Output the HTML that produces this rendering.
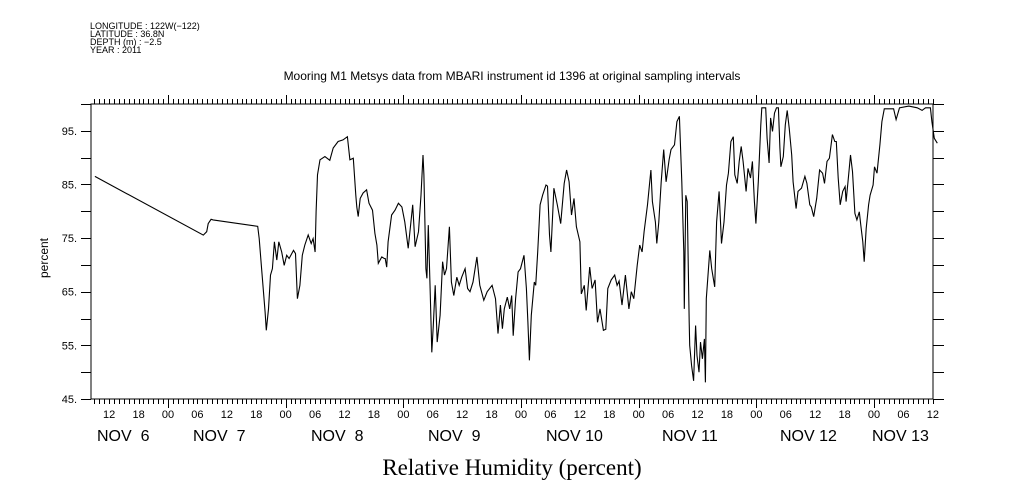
<!DOCTYPE html>
<html><head><meta charset="utf-8"><style>
html,body{margin:0;padding:0;background:#fff;}
svg{display:block;font-family:"Liberation Sans",sans-serif;}
</style></head><body>
<svg id="chart" width="1009" height="504" viewBox="0 0 1009 504" xmlns="http://www.w3.org/2000/svg">
<g font-size="9" fill="#000">
<text x="90" y="29">LONGITUDE : 122W(−122)</text>
<text x="90" y="37">LATITUDE : 36.8N</text>
<text x="90" y="45">DEPTH (m) : −2.5</text>
<text x="90" y="53">YEAR : 2011</text>
</g>
<text x="512" y="80" font-size="12" text-anchor="middle">Mooring M1 Metsys data from MBARI instrument id 1396 at original sampling intervals</text>
<text x="512" y="475" font-size="23" text-anchor="middle" font-family="Liberation Serif,serif">Relative Humidity (percent)</text>
<text x="0" y="0" font-size="12" text-anchor="middle" transform="translate(48,258) rotate(-90)">percent</text>
<rect x="91" y="104" width="842" height="295" fill="none" stroke="#000" stroke-width="1"/>
<g id="axes"></g>
<path id="line" fill="none" stroke="#000" stroke-width="1.1"/>
</svg>
<script>
const hours=[9.1,31.2,31.9,32.2,32.8,33.2,42.3,42.6,43.1,43.8,44.05,44.5,44.9,45.3,45.7,46.2,46.6,47.2,47.7,48.2,48.7,49.6,50,50.4,50.9,51.4,51.9,52.6,53.2,53.6,54,54.2,54.5,55,56,57,57.7,58.7,59.7,60.6,61.1,61.8,62.3,62.5,62.8,63.2,63.8,64.5,65,65.7,66.2,66.6,66.9,67.6,68.1,68.3,68.6,68.9,69.6,70.3,71,71.7,72.3,73,73.9,74.4,75.1,75.6,76,76.2,76.6,76.8,77.1,77.5,77.8,78.1,78.5,78.9,79.5,80,80.4,80.8,81.4,81.8,82.3,82.9,83.4,83.9,84.6,85.1,85.6,86.2,87,87.6,88.4,89.1,90.1,90.8,91.3,91.8,92.2,92.6,93.2,93.7,94.1,94.4,94.9,95.4,95.9,96.6,97.1,97.4,97.7,98.1,98.7,99,99.4,99.9,100.4,101.1,101.4,101.8,102.1,102.7,103.4,104.1,104.8,105.3,105.8,106.3,106.8,107.3,108,108.3,108.9,109.3,110,110.5,111.1,111.6,112.1,112.8,113.3,113.7,114.4,115.1,115.6,116,116.6,117.3,118,118.5,119,119.7,120.2,120.7,121.1,121.8,122.5,122.8,123.4,123.7,124.1,124.6,125.1,125.6,126.2,126.6,127.3,127.8,128.3,128.8,129.2,129.3,129.6,129.9,130.3,130.4,130.8,131.2,131.6,131.9,132.3,132.6,133,133.4,133.6,133.8,134.5,134.9,135.5,135.9,136.4,136.9,137.4,137.9,138.3,138.8,139.3,139.6,140.1,140.5,140.9,141.3,141.9,142.3,142.8,143.2,143.6,143.9,144.4,144.9,145.1,145.9,146.2,146.6,146.9,147.3,147.7,148.1,148.5,148.8,149,149.5,149.9,150.3,150.7,151.2,151.5,152.1,152.5,153.2,153.9,154.3,154.9,155.2,155.7,156.3,156.9,157.5,157.9,158.4,158.9,159.5,160,160.3,160.7,161.1,161.6,162.1,162.3,162.8,163.2,163.6,164.1,164.5,165,165.3,165.7,166,166.4,166.9,167.2,167.8,168.1,168.6,169.2,169.6,170.1,172,172.5,173.2,175.1,176.8,177.8,178.5,179.5,179.8,180.3,180.9];
const values=[86.5,75.55,76.2,77.7,78.5,78.4,77.2,74.9,69.3,61.2,57.8,61.8,68.1,69.3,74.3,70.9,74.3,72.4,69.9,71.8,71.2,72.7,72.1,63.7,66.2,71.8,73.7,75.6,74,74.9,72.4,79.9,86.8,89.6,90.2,89.5,91.8,93,93.3,93.9,89.6,89.9,83,80.8,79,82.4,83.4,84,81.5,80.2,75.9,73.7,70.3,71.5,71.2,71.2,69.6,74.3,79.3,80.2,81.5,80.8,78,73.1,81.2,73.4,76.2,83,90.5,86.8,69.3,67.5,77.4,64.3,53.7,58.7,66.2,55.6,60.6,70.6,68.1,69.3,77.1,66.8,64.3,67.7,66.2,67.7,69.3,65.6,65,66.8,71.5,66.2,63.4,65,66.2,63.7,57.2,62.5,58.1,61.8,64,61.8,64.3,56.8,63.7,68.7,69.3,71.8,65.6,59.3,52.2,60.6,66.8,66.2,72.4,81.2,83,84.9,84.7,75.6,72.4,84.3,81.2,77.7,85.2,87.7,85.5,79.3,82.4,77.1,74.3,64.6,66.2,61.5,69.6,65.6,67.2,59.3,61.8,57.8,58,65.6,67.2,68.1,66.2,67,62.5,68.1,61.8,65,63.7,69.9,73.7,72.4,76.2,81.2,87.7,81.8,78,74,78,85.5,91.5,85.5,89.6,91.5,92.4,96.7,97.7,85.5,72.4,61.8,83,81.8,59.3,55,51.2,48.4,58.7,53.1,50,55.6,52.5,56.2,48.1,63.7,72.7,69.3,65.9,78,83.7,74,78,84.9,87.1,93,93.9,86.8,85.2,89.3,92.1,89.3,83.7,88,86.2,89.3,81.8,77.7,85.5,96.1,99.3,99.3,93.6,89,97.4,94.9,98.3,99.3,99.3,91.8,88.3,90.2,96.1,98.8,95.5,90.5,85.5,80.5,83.7,84.3,86.5,85.2,81.2,80.8,79,82.4,87.7,87.1,85.2,89.3,89.9,94.3,93,93,86.2,81.2,83.7,84.6,81.8,86.5,90.5,87.4,79.6,78.4,79.9,77.4,74.3,70.6,76.8,81.2,83,84.9,88.3,87.1,92.4,96.7,99.1,99.1,97.1,99.3,99.6,99.3,98.8,99.3,99.3,96.7,93.6,92.7];
const yTicks=[45,55,65,75,85,95];
const hourLabels=["12","18","00","06","12","18","00","06","12","18","00","06","12","18","00","06","12","18","00","06","12","18","00","06","12","18","00","06","12"];
const dayLabels=["NOV  6","NOV  7","NOV  8","NOV  9","NOV 10","NOV 11","NOV 12","NOV 13"];
const L=91,R=933,T=104,B=399;
const xs=h=>168+(h-24)*4.903;
const ys=v=>B-(v-45)*(B-T)/55;
const NS="http://www.w3.org/2000/svg";
const axes=document.getElementById('axes');
function ln(x1,y1,x2,y2){const e=document.createElementNS(NS,'line');e.setAttribute('x1',x1);e.setAttribute('y1',y1);e.setAttribute('x2',x2);e.setAttribute('y2',y2);e.setAttribute('stroke','#000');e.setAttribute('stroke-width','1');


axes.appendChild(e);}
function tx(x,y,s,size,anchor){const e=document.createElementNS(NS,'text');e.setAttribute('x',x);e.setAttribute('y',y);e.setAttribute('font-size',size);e.setAttribute('text-anchor',anchor);e.setAttribute('xml:space','preserve');e.style.whiteSpace='pre';e.textContent=s;


axes.appendChild(e);}
for(let h=9;h<=180;h++){const x=Math.round(xs(h))+0.5;if(x<L||x>R+1)continue;const major=h%24===0;ln(x,B,x,B+(major?9:5));ln(x,T,x,T-(major?9:5));}
for(let v=45;v<=100;v+=5){const y=Math.round(ys(v))+0.5;ln(L-10,y,L,y);ln(R,y,R+11,y);}
yTicks.forEach(v=>tx(77,ys(v)+4,v+".",11,"end"));
hourLabels.forEach((s,i)=>tx(xs(12+i*6),418,s,11,"middle"));
const dayX=[97,193,311,428,546,662,780,872];
dayLabels.forEach((s,i)=>tx(dayX[i],441,s,16,"start"));
let d="";hours.forEach((h,i)=>{d+=(i?"L":"M")+xs(h).toFixed(1)+","+ys(Math.min(100,values[i])).toFixed(1);});
document.getElementById('line').setAttribute('d',d);
</script>
</body></html>
